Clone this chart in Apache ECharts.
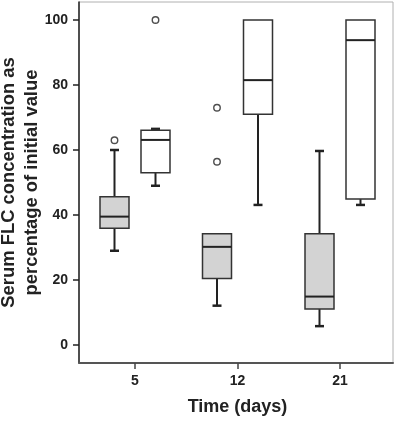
<!DOCTYPE html>
<html>
<head>
<meta charset="utf-8">
<script src="https://cdn.jsdelivr.net/npm/echarts@6/dist/echarts.min.js"></script>
<style>html,body{margin:0;padding:0;background:#fff;}#c{width:400px;height:421px;}</style>
</head>
<body>
<div id="c"></div>
<script>
// Time points (days)
var categories = ['5', '12', '21'];
var yTicks = [0, 20, 40, 60, 80, 100];
// Box statistics per time point: [low whisker, Q1, median, Q3, high whisker]
var grayBoxes = [
  [29.0, 35.9, 39.5, 45.6, 60.0],
  [12.1, 20.5, 30.2, 34.2, 34.2],
  [5.8, 11.1, 14.9, 34.2, 59.7]
];
var whiteBoxes = [
  [49.0, 53.0, 63.1, 66.1, 66.5],
  [43.1, 71.0, 81.5, 100, 100],
  [43.1, 44.9, 93.8, 100, 100]
];
// Outliers: [category index, value]
var grayOutliers = [[0, 63], [1, 73], [1, 56.4]];
var whiteOutliers = [[0, 100]];

var FONT = 'Liberation Sans, Arial, sans-serif';
var INK = '#222';

function toData(boxes) {
  return boxes.map(function (b, i) { return [i].concat(b); });
}

function makeRender(dx, fill) {
  return function (params, api) {
    var c = api.value(0);
    var x = api.coord([c, 0])[0] + dx;
    var yl = api.coord([c, api.value(1)])[1];
    var y1 = api.coord([c, api.value(2)])[1];
    var ym = api.coord([c, api.value(3)])[1];
    var y3 = api.coord([c, api.value(4)])[1];
    var yh = api.coord([c, api.value(5)])[1];
    var hw = 14.5, cw = 4.5;
    var children = [];
    var wStyle = { stroke: INK, lineWidth: 2 };
    var cStyle = { stroke: INK, lineWidth: 2.5 };
    if (api.value(5) > api.value(4)) {
      children.push({ type: 'line', shape: { x1: x, y1: y3, x2: x, y2: yh }, style: wStyle });
      children.push({ type: 'line', shape: { x1: x - cw, y1: yh, x2: x + cw, y2: yh }, style: cStyle });
    }
    if (api.value(1) < api.value(2)) {
      children.push({ type: 'line', shape: { x1: x, y1: y1, x2: x, y2: yl }, style: wStyle });
      children.push({ type: 'line', shape: { x1: x - cw, y1: yl, x2: x + cw, y2: yl }, style: cStyle });
    }
    children.push({ type: 'rect', shape: { x: x - hw, y: y3, width: hw * 2, height: y1 - y3 },
      style: { fill: fill, stroke: '#333', lineWidth: 1.5 } });
    children.push({ type: 'line', shape: { x1: x - hw, y1: ym, x2: x + hw, y2: ym },
      style: { stroke: INK, lineWidth: 2 } });
    return { type: 'group', children: children };
  };
}

var chart = echarts.init(document.getElementById('c'), null, { renderer: 'canvas' });
chart.setOption({
  animation: false,
  backgroundColor: '#fff',
  grid: [
    { left: 79, top: 2, width: 314, height: 361, show: true, borderColor: '#b0b0b0', borderWidth: 1,
      backgroundColor: 'transparent', containLabel: false, outerBoundsMode: 'none' },
    { left: 83.75, top: 20, width: 307.5, height: 325, containLabel: false, outerBoundsMode: 'none' }
  ],
  xAxis: [
    { gridIndex: 0, type: 'category', data: categories, position: 'bottom',
      axisLine: { show: true, onZero: false, lineStyle: { color: '#555', width: 2 } },
      axisTick: { show: false }, axisLabel: { show: false }, splitLine: { show: false } },
    { gridIndex: 1, type: 'category', data: categories, offset: 18, position: 'bottom',
      axisLine: { show: false, onZero: false },
      axisTick: { show: true, alignWithLabel: true, length: 6, lineStyle: { color: '#444', width: 1.5 } },
      axisLabel: { margin: 11, color: INK, fontSize: 14, fontWeight: 'bold', fontFamily: FONT },
      splitLine: { show: false },
      name: 'Time (days)', nameLocation: 'middle', nameGap: 35,
      nameTextStyle: { color: INK, fontSize: 18, fontWeight: 'bold', fontFamily: FONT } }
  ],
  yAxis: [
    { gridIndex: 0, type: 'value', min: 0, max: 1, position: 'left',
      axisLine: { show: true, onZero: false, lineStyle: { color: INK, width: 1.5 } },
      axisTick: { show: false }, axisLabel: { show: false }, splitLine: { show: false },
      name: 'Serum FLC concentration as\npercentage of initial value',
      nameLocation: 'middle', nameGap: 35.5, nameRotate: 90,
      nameTextStyle: { color: INK, fontSize: 18.4, fontWeight: 'bold', fontFamily: FONT, lineHeight: 23 } },
    { gridIndex: 1, type: 'value', min: yTicks[0], max: yTicks[yTicks.length - 1], interval: 20, offset: 4.75, position: 'left',
      axisLine: { show: false, onZero: false },
      axisTick: { show: true, length: 6, lineStyle: { color: INK, width: 1.5 } },
      axisLabel: { margin: 11, color: INK, fontSize: 14, fontWeight: 'bold', fontFamily: FONT },
      splitLine: { show: false } }
  ],
  series: [
    { type: 'custom', xAxisIndex: 1, yAxisIndex: 1, clip: false,
      data: toData(grayBoxes), encode: { x: 0, y: [1, 2, 3, 4, 5] },
      renderItem: makeRender(-20.5, '#d3d3d3') },
    { type: 'custom', xAxisIndex: 1, yAxisIndex: 1, clip: false,
      data: toData(whiteBoxes), encode: { x: 0, y: [1, 2, 3, 4, 5] },
      renderItem: makeRender(20.5, '#ffffff') },
    { type: 'scatter', xAxisIndex: 1, yAxisIndex: 1, clip: false,
      data: grayOutliers, symbol: 'circle', symbolSize: 6.5, symbolOffset: [-20.5, 0],
      itemStyle: { color: '#fff', borderColor: INK, borderWidth: 1.4 } },
    { type: 'scatter', xAxisIndex: 1, yAxisIndex: 1, clip: false,
      data: whiteOutliers, symbol: 'circle', symbolSize: 6.5, symbolOffset: [20.5, 0],
      itemStyle: { color: '#fff', borderColor: INK, borderWidth: 1.4 } }
  ]
});
</script>
</body>
</html>
